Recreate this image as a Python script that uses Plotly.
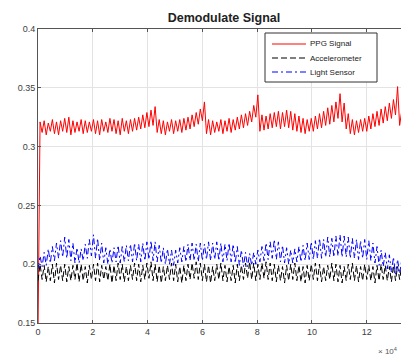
import numpy as np
import plotly.graph_objects as go

# Demodulated signals, one oscillation cycle per 0.15 (x in units of 1e4 samples).
# Each cycle is stored as its lower value (at x = 0.15k) and upper value (at x = 0.15k + 0.075).
cycle_step = 0.15

ppg_low = [0.140, 0.312, 0.310, 0.313, 0.311, 0.310, 0.313, 0.312, 0.310, 0.312,
           0.313, 0.311, 0.312, 0.313, 0.311, 0.310, 0.313, 0.312, 0.313, 0.311,
           0.310, 0.313, 0.311, 0.313, 0.314, 0.315, 0.316, 0.317, 0.318, 0.312,
           0.311, 0.310, 0.313, 0.311, 0.313, 0.312, 0.314, 0.315, 0.317, 0.319,
           0.322, 0.311, 0.310, 0.312, 0.313, 0.311, 0.313, 0.312, 0.314, 0.315,
           0.316, 0.318, 0.321, 0.325, 0.313, 0.314, 0.315, 0.316, 0.317, 0.315,
           0.317, 0.316, 0.314, 0.313, 0.312, 0.311, 0.313, 0.313, 0.315, 0.316,
           0.318, 0.319, 0.321, 0.324, 0.321, 0.315, 0.311, 0.310, 0.312, 0.313,
           0.313, 0.315, 0.317, 0.318, 0.320, 0.322, 0.324, 0.327, 0.318]
ppg_high = [0.321, 0.322, 0.320, 0.323, 0.321, 0.322, 0.324, 0.325, 0.322, 0.321,
            0.323, 0.322, 0.321, 0.323, 0.322, 0.323, 0.321, 0.324, 0.323, 0.322,
            0.324, 0.322, 0.323, 0.324, 0.325, 0.327, 0.329, 0.331, 0.334, 0.323,
            0.322, 0.321, 0.323, 0.322, 0.323, 0.324, 0.325, 0.327, 0.329, 0.332,
            0.338, 0.323, 0.322, 0.321, 0.323, 0.322, 0.324, 0.323, 0.325, 0.327,
            0.328, 0.330, 0.335, 0.344, 0.327, 0.326, 0.328, 0.329, 0.330, 0.329,
            0.331, 0.330, 0.328, 0.326, 0.324, 0.323, 0.324, 0.326, 0.328, 0.330,
            0.333, 0.335, 0.338, 0.345, 0.337, 0.328, 0.323, 0.322, 0.323, 0.324,
            0.326, 0.328, 0.330, 0.332, 0.334, 0.337, 0.340, 0.351, 0.330]

acc_low = [0.186, 0.187, 0.185, 0.186, 0.184, 0.187, 0.186, 0.185, 0.186, 0.187,
           0.185, 0.186, 0.184, 0.187, 0.186, 0.185, 0.187, 0.186, 0.184, 0.186,
           0.187, 0.185, 0.186, 0.187, 0.186, 0.185, 0.187, 0.188, 0.186, 0.185,
           0.184, 0.186, 0.187, 0.186, 0.185, 0.184, 0.186, 0.187, 0.188, 0.187,
           0.186, 0.185, 0.184, 0.186, 0.187, 0.186, 0.185, 0.186, 0.184, 0.186,
           0.187, 0.188, 0.187, 0.186, 0.187, 0.188, 0.187, 0.186, 0.185, 0.186,
           0.184, 0.186, 0.187, 0.186, 0.185, 0.184, 0.186, 0.187, 0.186, 0.185,
           0.186, 0.187, 0.186, 0.185, 0.184, 0.186, 0.187, 0.186, 0.185, 0.186,
           0.187, 0.186, 0.184, 0.186, 0.187, 0.186, 0.185, 0.186, 0.187]
acc_high = [0.200, 0.199, 0.198, 0.200, 0.201, 0.199, 0.200, 0.198, 0.199, 0.201,
            0.200, 0.198, 0.199, 0.200, 0.201, 0.199, 0.198, 0.200, 0.199, 0.201,
            0.200, 0.198, 0.199, 0.201, 0.200, 0.199, 0.201, 0.202, 0.200, 0.199,
            0.198, 0.199, 0.201, 0.200, 0.198, 0.199, 0.200, 0.201, 0.202, 0.201,
            0.200, 0.199, 0.198, 0.200, 0.201, 0.199, 0.198, 0.199, 0.200, 0.199,
            0.201, 0.202, 0.201, 0.200, 0.201, 0.202, 0.201, 0.200, 0.199, 0.198,
            0.199, 0.200, 0.201, 0.199, 0.198, 0.199, 0.200, 0.201, 0.200, 0.198,
            0.199, 0.201, 0.200, 0.199, 0.198, 0.200, 0.201, 0.199, 0.198, 0.200,
            0.199, 0.198, 0.199, 0.200, 0.199, 0.198, 0.199, 0.198, 0.199]

light_low = [0.196, 0.198, 0.199, 0.201, 0.203, 0.205, 0.206, 0.205, 0.203, 0.201,
             0.201, 0.203, 0.205, 0.207, 0.205, 0.203, 0.201, 0.200, 0.201, 0.202,
             0.201, 0.202, 0.203, 0.202, 0.203, 0.202, 0.203, 0.204, 0.203, 0.202,
             0.201, 0.200, 0.200, 0.199, 0.201, 0.202, 0.202, 0.203, 0.203, 0.202,
             0.203, 0.204, 0.203, 0.204, 0.203, 0.202, 0.203, 0.202, 0.201, 0.199,
             0.198, 0.198, 0.199, 0.200, 0.202, 0.203, 0.204, 0.205, 0.204, 0.202,
             0.201, 0.200, 0.201, 0.202, 0.202, 0.203, 0.204, 0.204, 0.205, 0.205,
             0.206, 0.206, 0.206, 0.207, 0.206, 0.206, 0.205, 0.205, 0.204, 0.205,
             0.204, 0.203, 0.201, 0.199, 0.198, 0.196, 0.193, 0.191, 0.192]
light_high = [0.207, 0.210, 0.213, 0.215, 0.218, 0.220, 0.223, 0.221, 0.218, 0.214,
              0.213, 0.217, 0.221, 0.225, 0.222, 0.218, 0.214, 0.213, 0.214, 0.216,
              0.215, 0.216, 0.217, 0.218, 0.217, 0.218, 0.219, 0.220, 0.219, 0.216,
              0.214, 0.213, 0.212, 0.212, 0.214, 0.215, 0.217, 0.218, 0.217, 0.218,
              0.217, 0.219, 0.218, 0.219, 0.218, 0.217, 0.218, 0.217, 0.215, 0.212,
              0.210, 0.209, 0.210, 0.212, 0.215, 0.218, 0.219, 0.221, 0.219, 0.216,
              0.214, 0.212, 0.213, 0.215, 0.216, 0.218, 0.219, 0.220, 0.222, 0.221,
              0.223, 0.222, 0.224, 0.225, 0.224, 0.223, 0.222, 0.221, 0.220, 0.221,
              0.220, 0.218, 0.215, 0.212, 0.210, 0.208, 0.206, 0.204, 0.203]

series_names = ["PPG Signal", "Accelerometer", "Light Sensor"]
series_colors = ["#ff0000", "#000000", "#0000ff"]
series_dashes = ["solid", "6px,3px", "6px,3px,2px,3px"]

x_ticks = [0, 2, 4, 6, 8, 10, 12]
y_ticks = [0.15, 0.2, 0.25, 0.3, 0.35, 0.4]
y_tick_text = ["0.15", "0.2", "0.25", "0.3", "0.35", "0.4"]
x_range = [0, 13.25]
y_range = [0.15, 0.4]


def zigzag(low, high):
    """Interleave each cycle's low and high sample into one trace."""
    n = len(low)
    xs = np.empty(2 * n)
    ys = np.empty(2 * n)
    base = np.arange(n) * cycle_step
    xs[0::2] = base
    xs[1::2] = base + cycle_step / 2
    ys[0::2] = low
    ys[1::2] = high
    return xs, ys


fig = go.Figure()
for (low, high), name, color, dash in zip(
        [(ppg_low, ppg_high), (acc_low, acc_high), (light_low, light_high)],
        series_names, series_colors, series_dashes):
    xs, ys = zigzag(low, high)
    fig.add_trace(go.Scatter(x=xs, y=ys, mode="lines", name=name,
                             line=dict(color=color, width=1, dash=dash),
                             showlegend=False))

W, H = 401, 360
ml, mt, mb, mr = 38, 29, 37, 0
pw, ph = W - ml - mr, H - mt - mb


def px(xp):
    return (xp - ml) / pw


def py(yp):
    return 1 - (yp - mt) / ph


font_family = "Liberation Sans, Arial, sans-serif"
axis_font = dict(family=font_family, size=9, color="#404040")

fig.update_layout(
    width=W, height=H,
    margin=dict(l=ml, r=mr, t=mt, b=mb),
    paper_bgcolor="white", plot_bgcolor="white",
    title=dict(text="<b>Demodulate Signal</b>", x=px(224), xref="paper",
               y=1 - 18 / H, yref="container", xanchor="center", yanchor="middle",
               font=dict(family=font_family, size=12.5, color="#222")),
    xaxis=dict(range=x_range, tickvals=x_ticks, ticks="inside", ticklen=3,
               tickcolor="#555", showline=True, linecolor="#555", linewidth=1,
               mirror="ticks", showgrid=True, gridcolor="#e3e3e3", gridwidth=1,
               zeroline=False, tickfont=axis_font),
    yaxis=dict(range=y_range, tickvals=y_ticks, ticktext=y_tick_text,
               ticks="inside", ticklen=3, tickcolor="#555", showline=True,
               linecolor="#555", linewidth=1, showgrid=True, gridcolor="#e3e3e3",
               gridwidth=1, zeroline=False, tickfont=axis_font),
)

# Axis exponent for the sample index
fig.add_annotation(text="× 10<sup>4</sup>", xref="paper", yref="paper",
                   x=px(399), y=py(351), xanchor="right", yanchor="middle",
                   showarrow=False, font=dict(family=font_family, size=8, color="#555"))

# Legend box with line samples
box_l, box_r, box_t, box_b = 265, 377, 33, 82
fig.add_shape(type="rect", xref="paper", yref="paper",
              x0=px(box_l), x1=px(box_r), y0=py(box_b), y1=py(box_t),
              line=dict(color="#333", width=1), fillcolor="white", layer="above")
for i, (name, color, dash) in enumerate(zip(series_names, series_colors, series_dashes)):
    yy = 44 + 14 * i
    fig.add_shape(type="line", xref="paper", yref="paper",
                  x0=px(272), x1=px(306), y0=py(yy), y1=py(yy),
                  line=dict(color=color, width=1, dash=dash), layer="above")
    fig.add_annotation(text=name, xref="paper", yref="paper",
                       x=px(308), y=py(yy), xanchor="left", yanchor="middle",
                       showarrow=False, font=dict(family=font_family, size=8, color="#222"))

fig.write_html("out.html")
